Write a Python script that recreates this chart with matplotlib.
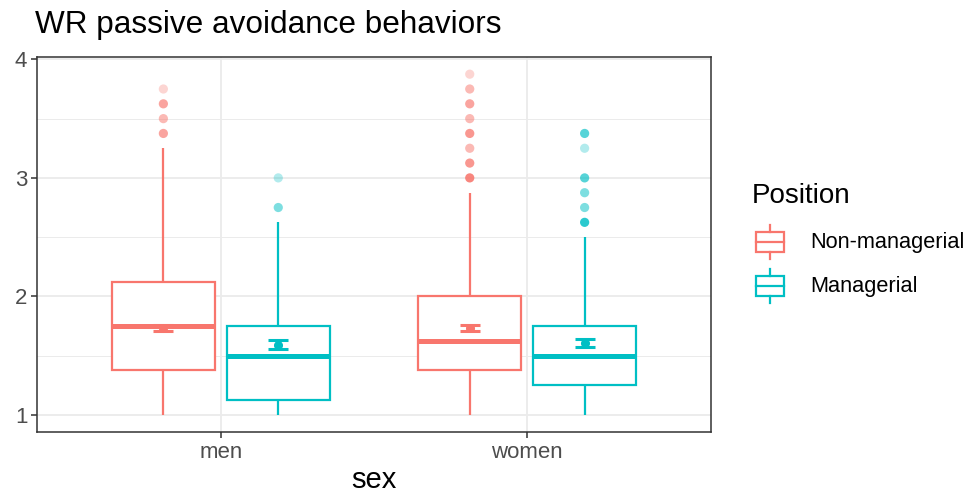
import matplotlib
matplotlib.use("Agg")
import matplotlib.pyplot as plt
import numpy as np

plt.rcParams['font.family'] = ['Liberation Sans', 'DejaVu Sans']

# Groups and positions
sexes = ["men", "women"]
positions = ["Non-managerial", "Managerial"]
colors = {"Non-managerial": "#F8766D", "Managerial": "#00BFC4"}

# Box statistics per (sex, position): whisker low, Q1, median, Q3, whisker high
box_stats = {
    ("men", "Non-managerial"): [1.0, 1.375, 1.75, 2.125, 3.25],
    ("men", "Managerial"): [1.0, 1.125, 1.5, 1.75, 2.625],
    ("women", "Non-managerial"): [1.0, 1.375, 1.625, 2.0, 2.875],
    ("women", "Managerial"): [1.0, 1.25, 1.5, 1.75, 2.5],
}

# Outlying values and how many observations sit on each
outlier_values = {
    ("men", "Non-managerial"): [3.375, 3.5, 3.625, 3.75],
    ("men", "Managerial"): [2.75, 3.0],
    ("women", "Non-managerial"): [3.0, 3.125, 3.25, 3.375, 3.5, 3.625, 3.75, 3.875],
    ("women", "Managerial"): [2.625, 2.75, 2.875, 3.0, 3.25, 3.375],
}
outlier_counts = {
    ("men", "Non-managerial"): [3, 2, 3, 1],
    ("men", "Managerial"): [2, 1],
    ("women", "Non-managerial"): [6, 4, 2, 4, 2, 3, 2, 1],
    ("women", "Managerial"): [5, 2, 2, 3, 1, 3],
}

# Mean with standard-error bounds
mean_vals = {
    ("men", "Non-managerial"): [1.735, 1.71, 1.76],
    ("men", "Managerial"): [1.59, 1.555, 1.63],
    ("women", "Non-managerial"): [1.735, 1.71, 1.76],
    ("women", "Managerial"): [1.605, 1.57, 1.64],
}

y_ticks = [1, 2, 3, 4]

W, H = 969, 498
fig = plt.figure(figsize=(W / 100, H / 100), dpi=100)
ax = fig.add_axes([37 / W, 1 - 432 / H, (711 - 37) / W, (432 - 57) / H])

dodge = 0.1875
box_w = 0.3375
lw = 1.6
pt_alpha = 0.3

for i, sex in enumerate(sexes):
    xc = i + 1
    for j, pos in enumerate(positions):
        key = (sex, pos)
        c = colors[pos]
        x = xc + (-dodge if j == 0 else dodge)
        lo, q1, med, q3, hi = box_stats[key]
        # whiskers
        ax.plot([x, x], [lo, q1], color=c, lw=lw, solid_capstyle='butt', zorder=3)
        ax.plot([x, x], [q3, hi], color=c, lw=lw, solid_capstyle='butt', zorder=3)
        # box
        ax.add_patch(plt.Rectangle((x - box_w / 2, q1), box_w, q3 - q1,
                                   facecolor='white', edgecolor=c, lw=lw, zorder=3))
        ax.plot([x - box_w / 2, x + box_w / 2], [med, med], color=c, lw=3.6,
                solid_capstyle='butt', zorder=4)
        # outliers
        for v, n in zip(outlier_values[key], outlier_counts[key]):
            a = 1 - (1 - pt_alpha) ** n
            ax.scatter([x], [v], s=44, color=c, alpha=a, edgecolors='none', zorder=3)
        # mean and error bar
        m, elo, ehi = mean_vals[key]
        ax.errorbar([x], [m], yerr=[[m - elo], [ehi - m]], fmt='o', color=c,
                    ms=5.5, capsize=7, capthick=2.2, elinewidth=2.2, zorder=5)

ax.set_xlim(0.4, 2.6)
ax.set_ylim(0.856, 4.02)
ax.set_xticks([1, 2])
ax.set_xticklabels(sexes)
ax.set_yticks(y_ticks)
ax.set_yticks([1.5, 2.5, 3.5], minor=True)
ax.grid(True, which='major', color='#EBEBEB', lw=1.3, zorder=0)
ax.grid(True, which='minor', axis='y', color='#EBEBEB', lw=0.7, zorder=0)
ax.tick_params(axis='both', which='major', labelsize=16, colors='#333333',
               labelcolor='#4D4D4D', length=4, width=1.1, pad=3)
ax.tick_params(axis='both', which='minor', length=0)
for s in ax.spines.values():
    s.set_color('#333333')
    s.set_linewidth(1.1)
ax.set_axisbelow(True)
ax.set_xlabel("sex", fontsize=21, labelpad=2)

fig.text(35 / W, 1 - 25 / H, "WR passive avoidance behaviors", fontsize=22.7,
         ha='left', va='center')

# Legend
fig.text(752 / W, 1 - 196 / H, "Position", fontsize=20, ha='left', va='center')
lax = fig.add_axes([750 / W, 1 - 310 / H, 40 / W, 90 / H])
lax.set_xlim(0, 40)
lax.set_ylim(90, 0)
lax.axis('off')
for k, pos in enumerate(positions):
    c = colors[pos]
    cy = 242 - 220 + k * 44
    lax.plot([20, 20], [cy - 17, cy - 10], color=c, lw=lw)
    lax.plot([20, 20], [cy + 10, cy + 17], color=c, lw=lw)
    lax.add_patch(plt.Rectangle((6, cy - 10), 28, 20, facecolor='white',
                                edgecolor=c, lw=lw))
    lax.plot([6, 34], [cy, cy], color=c, lw=lw)
    fig.text(810 / W, 1 - (220 + cy) / H, pos, fontsize=15.7, ha='left', va='center')

fig.savefig("out.png", dpi=100)
